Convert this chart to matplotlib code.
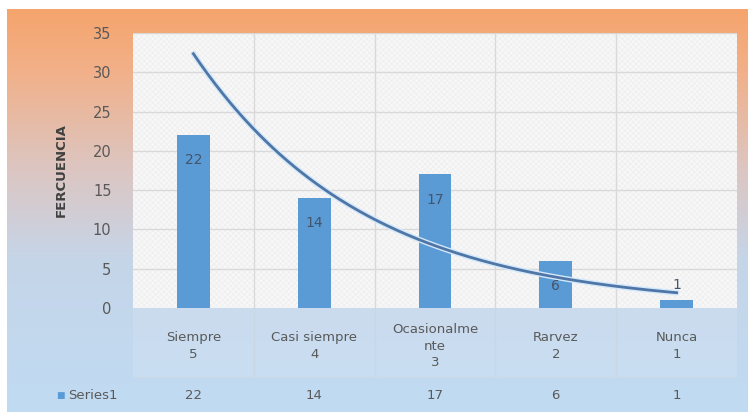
import numpy as np
import matplotlib
matplotlib.use("Agg")
import matplotlib.pyplot as plt
from matplotlib.colors import LinearSegmentedColormap
from matplotlib.patches import Rectangle
import matplotlib.transforms as mtransforms

categories = ["Siempre\n5", "Casi siempre\n4", "Ocasionalme\nnte\n3", "Rarvez\n2", "Nunca\n1"]
values = [22, 14, 17, 6, 1]
series_name = "Series1"
y_label = "FERCUENCIA"
y_ticks = [0, 5, 10, 15, 20, 25, 30, 35]

plt.rcParams["hatch.linewidth"] = 0.4

W, H = 755, 419
fig = plt.figure(figsize=(W / 100, H / 100), dpi=100)
fig.patch.set_facecolor("white")

# chart-area gradient background
bg = fig.add_axes([7 / W, 1 - 412 / H, (748 - 7) / W, (412 - 9) / H], zorder=0)
stops = [(0.0, (245/255, 164/255, 108/255)),
         (0.15, (242/255, 176/255, 136/255)),
         (0.40, (220/255, 198/255, 194/255)),
         (0.62, (198/255, 213/255, 232/255)),
         (1.0, (192/255, 219/255, 243/255))]
cmap = LinearSegmentedColormap.from_list("bgg", stops)
grad = np.linspace(0, 1, 256).reshape(-1, 1)
bg.imshow(grad, aspect="auto", cmap=cmap, extent=[0, 1, 1, 0])
bg.set_axis_off()

# plot area
left, right, top, zero = 133, 737, 33, 308
ax = fig.add_axes([left / W, 1 - zero / H, (right - left) / W, (zero - top) / H], zorder=2)
ax.set_facecolor("#f7f7f7")
ax.add_patch(Rectangle((0, 0), 1, 1, transform=ax.transAxes, facecolor="none",
                       edgecolor="#ececec", hatch="xxxxxx", linewidth=0, zorder=0))

n = len(values)
x = np.arange(n)
ax.set_xlim(-0.5, n - 0.5)
ax.set_ylim(0, 35)
ax.set_yticks(y_ticks)
ax.set_xticks([])
for yt in y_ticks[1:]:
    ax.axhline(yt, color="#d9d9d9", lw=1, zorder=1)
for b in np.arange(0.5, n - 0.5, 1):
    ax.axvline(b, color="#d9d9d9", lw=1, zorder=1)
for s in ax.spines.values():
    s.set_visible(False)
ax.tick_params(axis="y", length=0, labelsize=10.5, labelcolor="#595959", pad=15.5)

ax.bar(x, values, width=0.27, color="#5B9BD5", zorder=3)
for xi, v in zip(x, values):
    ly = v - 3.2 if v > 4 else v + 1.9
    ax.text(xi, ly, str(v), ha="center", va="center", fontsize=10, color="#44546A", zorder=6)

# exponential trendline
coef = np.polyfit(x + 1, np.log(values), 1)
xs = np.linspace(0, n - 1, 200)
ys = np.exp(coef[1] + coef[0] * (xs + 1))
ax.plot(xs, ys, color="#d3e8fa", lw=4, zorder=4, solid_capstyle="round")
ax.plot(xs, ys, color="#4f76a6", lw=2, zorder=5)

ax.set_ylabel(y_label, fontsize=9.5, fontweight="bold", color="#404040", labelpad=18)

# data table
trans = mtransforms.blended_transform_factory(ax.transData, ax.transAxes)
axh = zero - top
row1_bottom = -(377 - zero) / axh
ax.add_patch(Rectangle((-0.5, row1_bottom), n, -row1_bottom, transform=trans,
                       facecolor="white", alpha=0.12, edgecolor="none", clip_on=False))
for b in np.arange(0.5, n - 0.5, 1):
    ax.plot([b, b], [0, row1_bottom], transform=trans, color="#c9d6e3", lw=1, clip_on=False)
ax.plot([-0.5, n - 0.5], [row1_bottom, row1_bottom], transform=trans, color="#cbd9e6", lw=0.8, clip_on=False)

cat_y = -(346 - zero) / axh
val_y = -(395 - zero) / axh
for xi, c, v in zip(x, categories, values):
    ax.text(xi, cat_y, c, transform=trans, ha="center", va="center", fontsize=9.5,
            color="#595959", linespacing=1.35, clip_on=False)
    ax.text(xi, val_y, str(v), transform=trans, ha="center", va="center", fontsize=9.5,
            color="#595959", clip_on=False)

fig.text(60 / W, 1 - 395 / H, "■", color="#5B9BD5", fontsize=6.5, ha="center", va="center", zorder=5)
fig.text(68 / W, 1 - 395 / H, series_name, color="#595959", fontsize=9.5, ha="left", va="center", zorder=5)

fig.savefig("out.png", dpi=100)
